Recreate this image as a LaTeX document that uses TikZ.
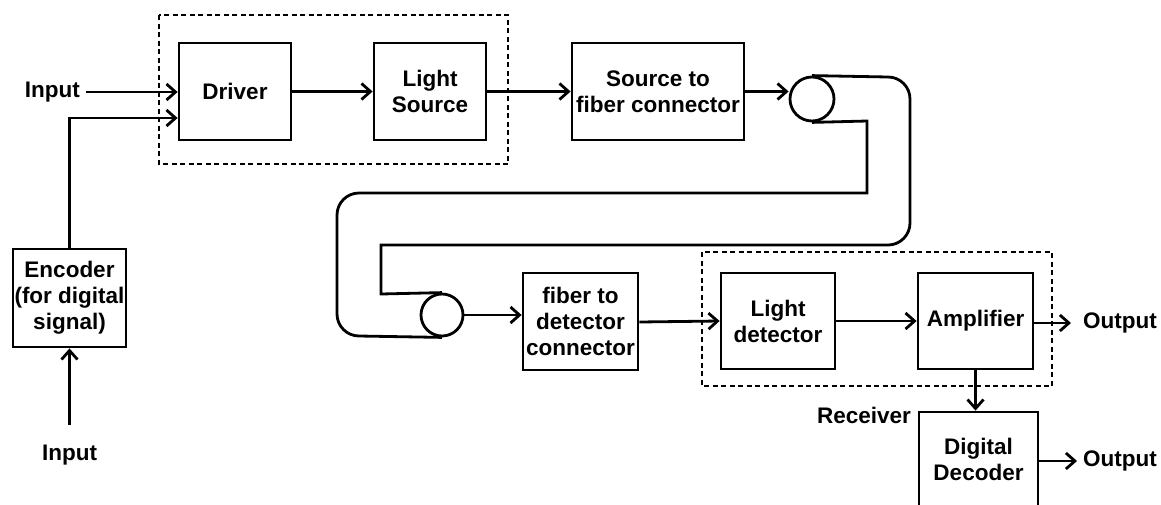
\documentclass[tikz,border=0pt]{standalone}
\usepackage{fontspec}
\setmainfont{Liberation Sans}
\usetikzlibrary{arrows.meta}
\begin{document}
\begin{tikzpicture}[x=1pt,y=1pt,
  font=\fontsize{22.5}{26}\selectfont\bfseries,
  blk/.style={draw, line width=2.8pt, align=center, inner sep=0pt},
  conn/.style={draw, circle, line width=2.8pt, minimum size=44pt, inner sep=0pt},
  lbl/.style={inner sep=0pt},
  arr/.style={line width=2.8pt, -{Straight Barb[length=9pt,width=16pt,line width=2.8pt]}},
  wire/.style={line width=2.8pt},
  grp/.style={line width=2.3pt, dash pattern=on 5pt off 3.5pt}]
\useasboundingbox (0,0) rectangle (1161,-504);
% group boxes
\draw[grp] (159,-15) rectangle (508,-164);
\draw[grp] (702,-252) rectangle (1052,-386);
% blocks
\node[blk, minimum width=112pt, minimum height=97pt] (driver) at (235,-91.5) {Driver};
\node[blk, minimum width=112pt, minimum height=97pt] (lsrc) at (430,-91.5) {Light\\Source};
\node[blk, minimum width=172pt, minimum height=97pt] (sconn) at (658,-91.5) {Source to\\fiber connector};
\node[blk, minimum width=113pt, minimum height=98pt] (enc) at (69.5,-298) {Encoder\\(for digital\\signal)};
\node[blk, minimum width=115pt, minimum height=97pt] (fdc) at (580.5,-321.5) {fiber to\\detector\\connector};
\node[blk, minimum width=114pt, minimum height=96pt] (ldet) at (778,-321) {Light\\detector};
\node[blk, minimum width=115pt, minimum height=96pt] (amp) at (975.5,-321) {Amplifier};
\node[blk, minimum width=119pt, minimum height=94pt] (dec) at (978.5,-459) {Digital\\Decoder};
% fiber connectors
\node[conn] (c1) at (812,-99) {};
\node[conn, minimum size=42pt] (c2) at (442,-315) {};
% labels
\node[lbl, anchor=east] (in1) at (80,-92) {Input};
\node[lbl] (in2) at (69.5,-455) {Input};
\node[lbl, anchor=west] (out1) at (1083,-323) {Output};
\node[lbl, anchor=west] (out2) at (1083,-461) {Output};
\node[lbl, anchor=base] (rcv) at (864,-423) {Receiver};
% connectors
\draw[arr] ([xshift=6pt]in1.east) -- (driver.west |- in1.east);
\draw[arr] (enc.north) |- ([yshift=-26.5pt]driver.west);
\draw[arr] ([yshift=20pt]in2.north) -- (enc.south);
\draw[arr] (driver) -- (lsrc);
\draw[arr] (lsrc) -- (sconn);
\draw[arr] (sconn.east) -- (sconn.east -| c1.west);
\draw[arr] (c2.east) -- (fdc.west |- c2.east);
\draw[arr] ([yshift=-0.5pt]fdc.east) -- (ldet.west |- 0,-321);
\draw[arr] (ldet) -- (amp);
\draw[arr] ([yshift=-2pt]amp.east) -- ([xshift=-12pt]out1.west);
\draw[arr] (amp.south) -- (amp.south |- dec.north);
\draw[arr] ([yshift=-2pt]dec.east) -- ([xshift=-6pt]out2.west);
% fiber
\draw[wire, line join=miter] (c1.north) -- (888,-77) arc (90:0:22) -- (910,-223) arc (0:-90:22) -- (381,-245) -- (381,-294) -- (c2.north);
\draw[wire, line join=miter] (c1.south) -- (867,-121) -- (867,-193) -- (359,-193) arc (90:180:22) -- (337,-314) arc (180:270:22) -- (c2.south);
\end{tikzpicture}
\end{document}
